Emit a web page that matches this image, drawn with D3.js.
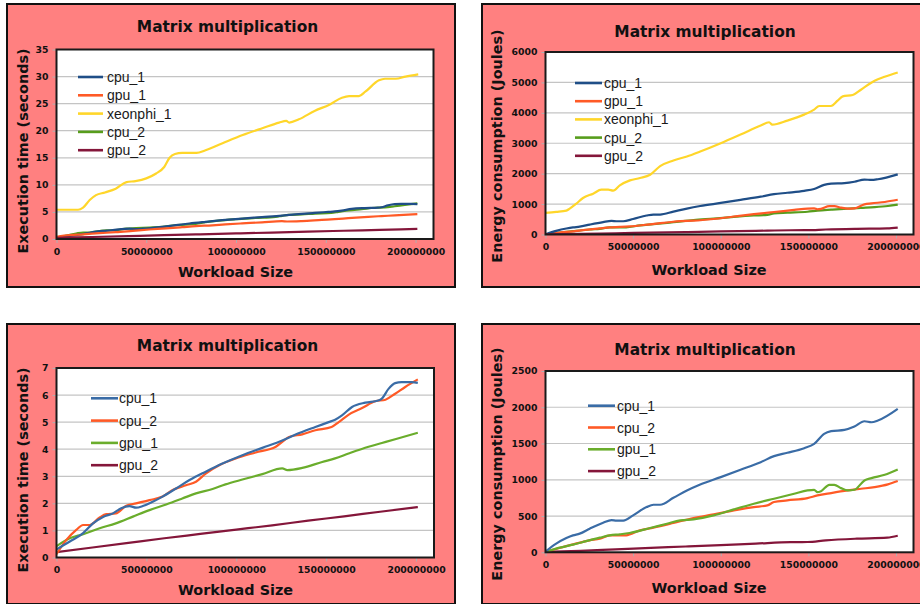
<!DOCTYPE html>
<html>
<head>
<meta charset="utf-8">
<script src="https://cdn.jsdelivr.net/npm/d3@7"></script>
<style>
  html, body { margin: 0; padding: 0; background: #ffffff; }
  svg { display: block; }
</style>
</head>
<body>
<svg id="chart" width="920" height="604"></svg>
<script>
// Workload sizes are stored in millions; values in seconds or joules.

// Execution time (seconds)
const timeCpu1 = [[0,0.3],[7.4,0.59],[14.8,0.9],[20.3,1.26],[25.9,1.5],[31.4,1.63],[36,1.82],[40.6,1.9],[44.3,1.84],[48,1.9],[53.5,2.06],[59,2.25],[66.5,2.55],[74,2.86],[83,3.17],[92.3,3.47],[103.4,3.78],[114.5,4.05],[125.6,4.32],[133,4.54],[144,4.82],[151.4,5.0],[155,5.09],[158.8,5.25],[164.4,5.56],[171.8,5.72],[179,5.8],[181,5.87],[184.7,6.23],[188.4,6.44],[192,6.48],[197.6,6.48],[201,6.45]];
const timeCpu2 = [[0,0.12],[5.5,0.65],[11,1.02],[14.8,1.2],[18.5,1.2],[24,1.48],[27.7,1.6],[33,1.63],[38.8,1.91],[44.3,2.0],[51.7,2.12],[59,2.25],[64.6,2.49],[72,2.67],[77.6,2.8],[83,3.1],[90.5,3.41],[99.7,3.66],[110.8,3.88],[122,4.09],[125.6,4.27],[129.3,4.45],[136.7,4.55],[144,4.7],[153,4.82],[157,5.0],[162.6,5.28],[170,5.52],[177.3,5.77],[183,5.83],[188.4,6.05],[194,6.3],[201,6.58]];
const timeGpu1 = [[0,0.42],[7.4,0.71],[14.8,0.86],[24,1.08],[33,1.26],[42.5,1.51],[51.7,1.75],[61,1.96],[70,2.18],[77.6,2.37],[86.8,2.53],[94,2.7],[103.4,2.88],[114.5,3.08],[125.6,3.29],[128.4,3.23],[136.7,3.31],[147.8,3.53],[155,3.66],[162.5,3.84],[173.6,4.09],[181,4.23],[188.4,4.37],[201,4.61]];
const timeGpu2 = [[0,0.2],[20,0.37],[40,0.54],[60,0.71],[80,0.87],[100,1.03],[120,1.19],[140,1.36],[160,1.52],[180,1.69],[201,1.86]];
const timeXeon1 = [[0,5.4],[12,5.4],[14.8,5.8],[18.5,7.2],[22,8.1],[27,8.6],[33,9.3],[39,10.5],[44,10.7],[50,11.2],[55.5,12.1],[60,13.3],[63,15.0],[66,15.7],[70,15.9],[78,15.9],[83,16.4],[92.5,17.7],[103.7,19.2],[115,20.5],[124,21.5],[128,21.8],[129.6,21.5],[135,22.1],[144,23.7],[152,24.8],[159,26.1],[163,26.4],[168.5,26.4],[172,27.2],[179.6,29.3],[183,29.6],[189,29.6],[194.4,30.0],[201.5,30.4]];

// Energy consumption (Joules)
const energyCpu1 = [[0,10],[6.1,120],[11.9,197],[15.7,234],[19.5,257],[25.2,326],[32.9,408],[37.7,445],[40.5,436],[44.4,436],[50,509],[57.7,624],[61.6,656],[65.4,656],[73,752],[80.7,853],[88.3,936],[100,1037],[111.3,1138],[122.8,1243],[130.4,1326],[138,1372],[147.6,1436],[153.3,1495],[159,1633],[163,1670],[170.6,1688],[176.3,1734],[182,1807],[186,1793],[189.7,1817],[201,1977]];
const energyCpu2 = [[0,5],[8,60],[15.7,110],[25.2,165],[31,188],[36.7,234],[40.5,234],[46,234],[53.9,303],[61.6,340],[73,404],[84.5,472],[96,523],[107.5,578],[118.9,624],[126.6,647],[130.4,693],[138,716],[149.5,748],[155.2,784],[163,817],[172.5,853],[180,876],[187.8,899],[195.4,936],[201,982]];
const energyGpu1 = [[0,5],[8,64],[15.7,105],[21.4,142],[31,202],[36.7,234],[42.4,248],[48,266],[59.7,335],[69.3,394],[76.9,440],[84.5,454],[96,509],[107.5,592],[118.9,670],[130.4,739],[141.9,807],[149.5,853],[153.3,862],[155.2,830],[157.2,843],[162,931],[164.8,931],[168.6,885],[172.5,853],[176.3,862],[182,991],[186,1023],[193.6,1069],[201,1142]];
const energyGpu2 = [[0,5],[20,20],[40,40],[60,60],[80,80],[100,100],[120,120],[140,140],[149.5,142],[160,165],[177.6,188],[195,202],[201,229]];
const energyXeon1 = [[0,710],[6.1,742],[11.9,786],[13.8,850],[17.6,1015],[21.4,1200],[27.2,1343],[31.9,1474],[35.8,1474],[38.6,1441],[42.4,1616],[48.2,1780],[53.9,1856],[59.7,1965],[65.4,2249],[73,2434],[80.7,2565],[88.3,2729],[100,3002],[111.3,3286],[122.8,3581],[127.6,3690],[129.4,3614],[138,3745],[147.6,3941],[153.3,4105],[156.2,4225],[162.9,4225],[166.7,4400],[169.6,4541],[175.3,4585],[180,4760],[187.8,5055],[193.5,5186],[201,5328]];

// Axis ticks
const xTicks = [0, 50000000, 100000000, 150000000, 200000000];
const timeTicksA = [0, 5, 10, 15, 20, 25, 30, 35];
const energyTicksA = [0, 1000, 2000, 3000, 4000, 5000, 6000];
const timeTicksB = [0, 1, 2, 3, 4, 5, 6, 7];
const energyTicksB = [0, 500, 1000, 1500, 2000, 2500];

const chartTitle = "Matrix multiplication";
const xTitle = "Workload Size";
const timeTitle = "Execution time (seconds)";
const energyTitle = "Energy consumption (Joules)";

// Line colours
const C = {
  blueDark: "#1f4e87", blueLight: "#3a6ca6",
  orange: "#ff5a26", yellow: "#ffd62a",
  greenDark: "#579d1c", greenLight: "#6aad2c",
  maroon: "#84163a"
};

const panels = [
  {
    box: [7, 4, 455, 287], plot: [56.5, 49.5, 433.5, 239],
    yMax: 35, yTicks: timeTicksA, yTitle: timeTitle,
    titleY: 26, titleX: 227.5, xTitleX: 235.5, xTitleY: 272, yTitleX: 22.5, yTitleY: 151,
    legend: { x1: 78, x2: 103, tx: 107, y0: 77, dy: 18.3 },
    series: [
      { name: "cpu_1", data: timeCpu1, color: C.blueDark },
      { name: "gpu_1", data: timeGpu1, color: C.orange },
      { name: "xeonphi_1", data: timeXeon1, color: C.yellow },
      { name: "cpu_2", data: timeCpu2, color: C.greenDark },
      { name: "gpu_2", data: timeGpu2, color: C.maroon }
    ],
    drawOrder: [2, 3, 0, 1, 4]
  },
  {
    box: [482, 4, 930, 287], plot: [545.5, 52, 913.5, 234.5],
    yMax: 6000, yTicks: energyTicksA, yTitle: energyTitle,
    titleY: 31, titleX: 705, xTitleX: 709, xTitleY: 269.5, yTitleX: 497, yTitleY: 146,
    legend: { x1: 575, x2: 602, tx: 604, y0: 83, dy: 18.2 },
    series: [
      { name: "cpu_1", data: energyCpu1, color: C.blueDark },
      { name: "gpu_1", data: energyGpu1, color: C.orange },
      { name: "xeonphi_1", data: energyXeon1, color: C.yellow },
      { name: "cpu_2", data: energyCpu2, color: C.greenDark },
      { name: "gpu_2", data: energyGpu2, color: C.maroon }
    ],
    drawOrder: [2, 3, 1, 0, 4]
  },
  {
    box: [7, 324, 455, 604], plot: [56.5, 368, 434, 557.5],
    yMax: 7, yTicks: timeTicksB, yTitle: timeTitle,
    titleY: 345, titleX: 227.5, xTitleX: 235.5, xTitleY: 589.5, yTitleX: 22.5, yTitleY: 470,
    legend: { x1: 91, x2: 118, tx: 119, y0: 398.3, dy: 22.3 },
    series: [
      { name: "cpu_1", data: timeCpu1, color: C.blueLight },
      { name: "cpu_2", data: timeCpu2, color: C.orange },
      { name: "gpu_1", data: timeGpu1, color: C.greenLight },
      { name: "gpu_2", data: timeGpu2, color: C.maroon }
    ],
    drawOrder: [3, 2, 1, 0]
  },
  {
    box: [482, 324, 930, 604], plot: [545.5, 371, 913.5, 552.3],
    yMax: 2500, yTicks: energyTicksB, yTitle: energyTitle,
    titleY: 349.5, titleX: 705, xTitleX: 709, xTitleY: 588, yTitleX: 497, yTitleY: 464,
    legend: { x1: 588, x2: 615, tx: 617, y0: 405.7, dy: 21.8 },
    series: [
      { name: "cpu_1", data: energyCpu1, color: C.blueLight },
      { name: "cpu_2", data: energyCpu2, color: C.orange },
      { name: "gpu_1", data: energyGpu1, color: C.greenLight },
      { name: "gpu_2", data: energyGpu2, color: C.maroon }
    ],
    drawOrder: [3, 1, 2, 0]
  }
];

const svg = d3.select("#chart");
const boldFont = "'DejaVu Sans', sans-serif";
const legendFont = "'Liberation Sans', Arial, sans-serif";

panels.forEach(p => {
  const g = svg.append("g");
  const [bx0, by0, bx1, by1] = p.box;
  const [px0, py0, px1, py1] = p.plot;

  // Panel background
  g.append("rect")
    .attr("x", bx0).attr("y", by0)
    .attr("width", bx1 - bx0).attr("height", by1 - by0)
    .attr("fill", "#ff8080").attr("stroke", "#111").attr("stroke-width", 2);

  const x = d3.scaleLinear().domain([0, 210e6]).range([px0, px1]);
  const y = d3.scaleLinear().domain([0, p.yMax]).range([py1, py0]);

  // Plot area
  g.append("rect")
    .attr("x", px0).attr("y", py0)
    .attr("width", px1 - px0).attr("height", py1 - py0)
    .attr("fill", "#ffffff");

  // Horizontal grid lines
  g.append("g").selectAll("line").data(p.yTicks.slice(1)).join("line")
    .attr("x1", px0).attr("x2", px1)
    .attr("y1", d => y(d)).attr("y2", d => y(d))
    .attr("stroke", "#c4c4c4").attr("stroke-width", 1.2);

  // Axes with small outward ticks
  const yAxis = d3.axisLeft(y).tickValues(p.yTicks).tickSize(4).tickPadding(4).tickFormat(d3.format("d"));
  const xAxis = d3.axisBottom(x).tickValues(xTicks).tickSize(4).tickPadding(5).tickFormat(d3.format("d"));

  const ya = g.append("g").attr("transform", `translate(${px0},0)`).call(yAxis);
  const xa = g.append("g").attr("transform", `translate(0,${py1})`).call(xAxis);
  [ya, xa].forEach(a => {
    a.select(".domain").remove();
    a.selectAll(".tick line").attr("stroke", "#b0b0b0").attr("stroke-width", 1);
    a.selectAll(".tick text")
      .attr("fill", "#111")
      .style("font-family", boldFont).style("font-weight", "bold").style("font-size", "9.3px");
  });

  // Data lines
  const line = d3.line()
    .x(d => x(d[0] * 1e6))
    .y(d => y(d[1]))
    .curve(d3.curveMonotoneX);

  const clipId = "clip" + Math.round(px0) + "_" + Math.round(py0);
  g.append("clipPath").attr("id", clipId).append("rect")
    .attr("x", px0).attr("y", py0 - 2).attr("width", px1 - px0).attr("height", py1 - py0 + 2);

  const lines = g.append("g").attr("clip-path", `url(#${clipId})`);
  p.drawOrder.forEach(i => {
    const s = p.series[i];
    lines.append("path")
      .attr("d", line(s.data))
      .attr("fill", "none")
      .attr("stroke", s.color)
      .attr("stroke-width", 2.2)
      .attr("stroke-linejoin", "round");
  });

  // Plot frame
  g.append("rect")
    .attr("x", px0).attr("y", py0)
    .attr("width", px1 - px0).attr("height", py1 - py0)
    .attr("fill", "none").attr("stroke", "#1a1a1a").attr("stroke-width", 2);

  // Legend
  const lg = g.append("g");
  p.series.forEach((s, i) => {
    const ly = p.legend.y0 + i * p.legend.dy;
    lg.append("line")
      .attr("x1", p.legend.x1).attr("x2", p.legend.x2)
      .attr("y1", ly).attr("y2", ly)
      .attr("stroke", s.color).attr("stroke-width", 2.6);
    lg.append("text")
      .attr("x", p.legend.tx).attr("y", ly)
      .attr("dy", "0.36em")
      .attr("fill", "#1a1a1a")
      .style("font-family", legendFont).style("font-size", "14px")
      .text(s.name);
  });

  // Titles
  g.append("text")
    .attr("x", p.titleX).attr("y", p.titleY).attr("dy", "0.36em")
    .attr("text-anchor", "middle").attr("fill", "#111")
    .style("font-family", boldFont).style("font-weight", "bold").style("font-size", "15.4px")
    .text(chartTitle);

  g.append("text")
    .attr("x", p.xTitleX).attr("y", p.xTitleY).attr("dy", "0.36em")
    .attr("text-anchor", "middle").attr("fill", "#111")
    .style("font-family", boldFont).style("font-weight", "bold").style("font-size", "14.4px")
    .text(xTitle);

  g.append("text")
    .attr("transform", `translate(${p.yTitleX},${p.yTitleY}) rotate(-90)`)
    .attr("dy", "0.36em")
    .attr("text-anchor", "middle").attr("fill", "#111")
    .style("font-family", boldFont).style("font-weight", "bold").style("font-size", "14.4px")
    .text(p.yTitle);
});
</script>
</body>
</html>
